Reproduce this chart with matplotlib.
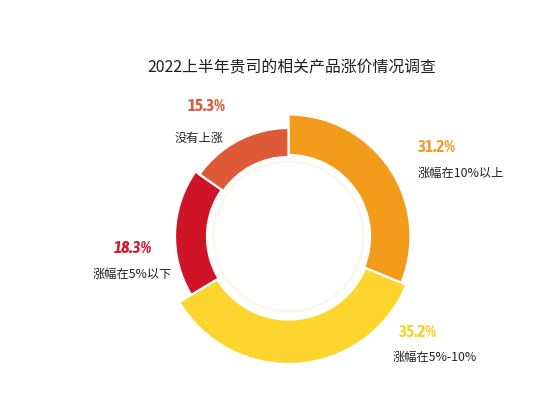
"""
Donut chart: 2022 H1 product price increase survey
"""

import matplotlib.pyplot as plt
from matplotlib import font_manager
from matplotlib.patches import Wedge, Circle

# data
categories = ["涨幅在10%以上", "涨幅在5%-10%", "涨幅在5%以下", "没有上涨"]
shares = [31.2, 35.2, 18.3, 15.3]
slice_colors = ["#F39C1B", "#FDD52E", "#D01427", "#DE5A36"]
label_colors = ["#F0A02A", "#F8D22E", "#D21A2E", "#E0583A"]
title = "2022上半年贵司的相关产品涨价情况调查"

CJK = ["Noto Sans CJK SC", "DejaVu Sans"]


def pick_narrow_font():
    """
    Looks for a condensed bold face for the percent labels, falls back to DejaVu
    """
    for f in font_manager.fontManager.ttflist:
        name = f.name.lower()
        if ("narrow" in name or "condensed" in name) and f.weight in ("bold", 700):
            return f.name, f.stretch, 12.4
    for f in font_manager.fontManager.ttflist:
        if f.stretch in ("condensed", "semi-condensed") and f.weight in ("bold", 700):
            return f.name, f.stretch, 12.4
    return "DejaVu Sans", "normal", 8.4


NUM_NAME, NUM_STRETCH, NUM_SIZE = pick_narrow_font()


def draw_ring(ax, center, outer_radii, inner_radii):
    """
    Draws the slices clockwise from 12 o'clock (y axis is flipped)
    """
    total = sum(shares)
    start = 270.0
    for share, color, r_out, r_in in zip(shares, slice_colors, outer_radii, inner_radii):
        sweep = share / total * 360.0
        w = Wedge(center, r_out, start, start + sweep, width=r_out - r_in,
                  facecolor=color, edgecolor="white", linewidth=1.6)
        ax.add_patch(w)
        start += sweep
    # thin cream ring inside the donut
    ax.add_patch(Circle(center, 75, fill=False, edgecolor="#FAF6E8", linewidth=1.4))


def pct_label(ax, x, y, text, color, ha, italic=False):
    ax.text(x, y, text, ha=ha, va="center", fontsize=NUM_SIZE,
            family=[NUM_NAME, "DejaVu Sans"], fontstretch=NUM_STRETCH,
            weight="bold", style="italic" if italic else "normal", color=color)


def main():
    fig = plt.figure(figsize=(5.42, 3.96), dpi=100)
    ax = fig.add_axes([0, 0, 1, 1])
    ax.set_xlim(0, 542)
    ax.set_ylim(396, 0)
    ax.axis("off")

    center = (288.5, 236.5)
    draw_ring(ax, center, [122, 127.5, 113.5, 108.5], [81.5, 83, 81.5, 79.5])

    ax.text(292, 68, title, ha="center", va="center", fontsize=11.4,
            family=CJK, color="#1E1E1E")

    # percent + caption for each slice
    pct_label(ax, 418, 147, "31.2%", label_colors[0], "left")
    ax.text(418, 173, categories[0], ha="left", va="center", fontsize=8.8,
            family=CJK, color="#222222")

    pct_label(ax, 399, 332, "35.2%", label_colors[1], "left")
    ax.text(393, 357, categories[1], ha="left", va="center", fontsize=8.8,
            family=CJK, color="#222222")

    pct_label(ax, 133, 248, "18.3%", label_colors[2], "center", italic=True)
    ax.text(132, 274, categories[2], ha="center", va="center", fontsize=8.8,
            family=CJK, color="#222222")

    pct_label(ax, 206.5, 106, "15.3%", label_colors[3], "center")
    ax.text(199, 138, categories[3], ha="center", va="center", fontsize=8.8,
            family=CJK, color="#222222")

    plt.savefig("out.png", dpi=100)


main()
